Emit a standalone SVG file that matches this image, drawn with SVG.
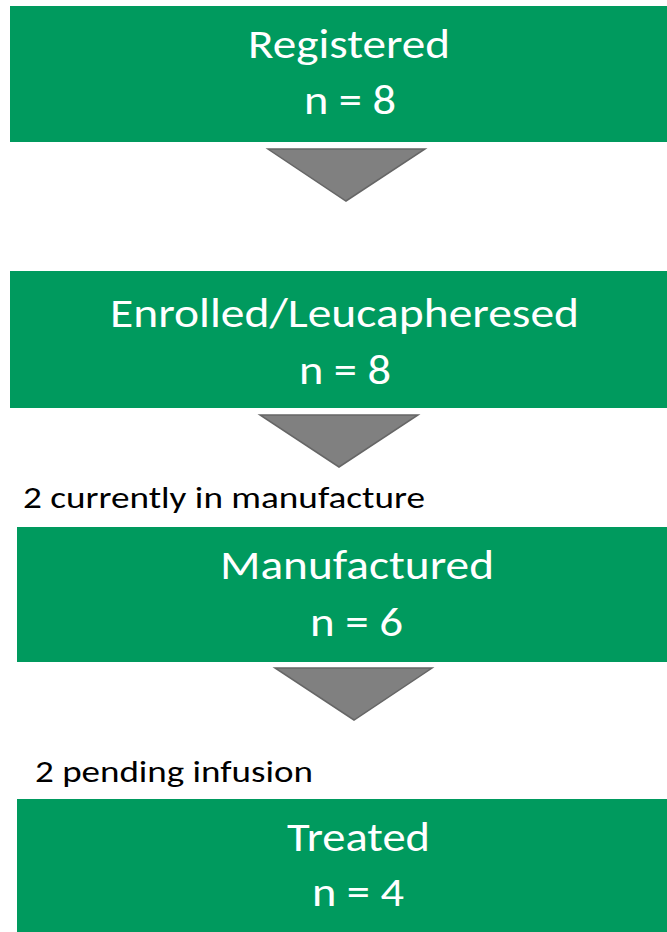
<svg xmlns="http://www.w3.org/2000/svg" width="667" height="932" viewBox="0 0 667 932">
<style>
.box{fill:#009A5E}
.wt{fill:#ffffff;font-family:Carlito,Lato,"Liberation Sans",sans-serif;font-size:41px;text-anchor:middle}
.bt{fill:#000000;font-family:Carlito,Lato,"Liberation Sans",sans-serif;font-size:30px}
.arr{fill:#808080;stroke:#666666;stroke-width:1.5;stroke-linejoin:miter}
</style>
<rect width="667" height="932" fill="#ffffff"/>
<g id="registered">
<rect class="box" x="10" y="6" width="657" height="136"/>
<text class="wt" x="349" y="57.5" textLength="202" lengthAdjust="spacingAndGlyphs">Registered</text>
<text class="wt" x="350" y="113.5" textLength="92" lengthAdjust="spacingAndGlyphs">n = 8</text>
</g>
<g id="enrolled">
<rect class="box" x="10" y="271" width="657" height="137"/>
<text class="wt" x="344.5" y="326.5" textLength="469" lengthAdjust="spacingAndGlyphs">Enrolled/Leucapheresed</text>
<text class="wt" x="345" y="383.5" textLength="92" lengthAdjust="spacingAndGlyphs">n = 8</text>
</g>
<g id="manufactured">
<rect class="box" x="17" y="527" width="650" height="135"/>
<text class="wt" x="357" y="578.5" textLength="274" lengthAdjust="spacingAndGlyphs">Manufactured</text>
<text class="wt" x="356.5" y="635.5" textLength="93" lengthAdjust="spacingAndGlyphs">n = 6</text>
</g>
<g id="treated">
<rect class="box" x="17" y="799" width="650" height="133"/>
<text class="wt" x="358.5" y="850.5" textLength="143" lengthAdjust="spacingAndGlyphs">Treated</text>
<text class="wt" x="358" y="905.5" textLength="92" lengthAdjust="spacingAndGlyphs">n = 4</text>
</g>
<g id="connectors">
<polygon class="arr" points="268,149 425,149 346,201"/>
<polygon class="arr" points="260,415 418,415 339,467"/>
<polygon class="arr" points="275,668 432,668 354,720"/>
</g>
<g id="notes">
<text class="bt" x="23" y="507.5" textLength="402" lengthAdjust="spacingAndGlyphs">2 currently in manufacture</text>
<text class="bt" x="35" y="782" textLength="278" lengthAdjust="spacingAndGlyphs">2 pending infusion</text>
</g>
</svg>
